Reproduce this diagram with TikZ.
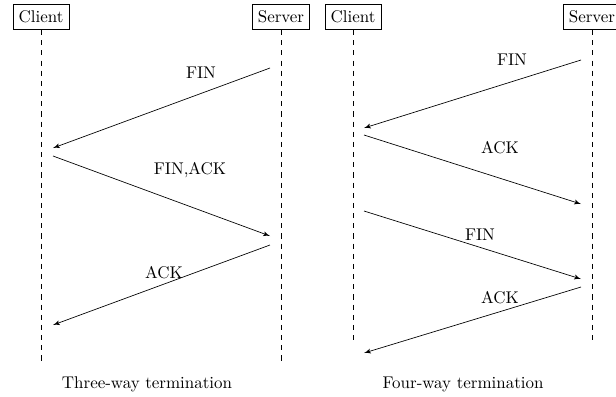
\documentclass[tikz,border=0pt]{standalone}
\usepackage{tikz}
\usetikzlibrary{arrows, positioning}

\begin{document}
\begin{tikzpicture}[
    x=0.59pt, y=-0.59pt,
    >=latex',
    party/.style={rectangle, draw, minimum height=15pt, inner sep=3.3pt},
    lifeline/.style={dashed},
    msg/.style={->},
    label/.style={inner sep=1pt},
    caption/.style={inner sep=1pt}
]
\useasboundingbox (0,0) rectangle (616,396);

% Three-way termination
\node[party] (cl3) at (41,17) {Client};
\node[party] (sv3) at (281,17) {Server};
\coordinate (cl3end) at (41,362);
\coordinate (sv3end) at (281,362);
\draw[lifeline] (cl3) -- (cl3end);
\draw[lifeline] (sv3) -- (sv3end);

\coordinate (a1) at (270,68);
\coordinate (b1) at (53,148);
\coordinate (a2) at (53,156);
\coordinate (b2) at (270,236);
\coordinate (a3) at (270,245);
\coordinate (b3) at (53,325);

\draw[msg] (a1) -- (b1);
\draw[msg] (a2) -- (b2);
\draw[msg] (a3) -- (b3);

\node[label] (fin3) at (201,73) {FIN};
\node[label] (finack3) at (190,170) {FIN,ACK};
\node[label] (ack3) at (164,273) {ACK};
\node[caption] (cap3) at (147,384) {Three-way termination};

% Four-way termination
\node[party] (cl4) at (353,17) {Client};
\node[party] (sv4) at (592,17) {Server};
\coordinate (cl4end) at (353,345);
\coordinate (sv4end) at (592,345);
\draw[lifeline] (cl4) -- (cl4end);
\draw[lifeline] (sv4) -- (sv4end);

\coordinate (c1) at (581,60);
\coordinate (d1) at (364,128);
\coordinate (c2) at (364,135);
\coordinate (d2) at (581,204);
\coordinate (c3) at (364,211);
\coordinate (d3) at (581,279);
\coordinate (c4) at (581,287);
\coordinate (d4) at (364,353);

\draw[msg] (c1) -- (d1);
\draw[msg] (c2) -- (d2);
\draw[msg] (c3) -- (d3);
\draw[msg] (c4) -- (d4);

\node[label] (fin4a) at (512,60) {FIN};
\node[label] (ack4a) at (500,148) {ACK};
\node[label] (fin4b) at (480,235) {FIN};
\node[label] (ack4b) at (500,298) {ACK};
\node[caption] (cap4) at (463,384) {Four-way termination};

\end{tikzpicture}
\end{document}
